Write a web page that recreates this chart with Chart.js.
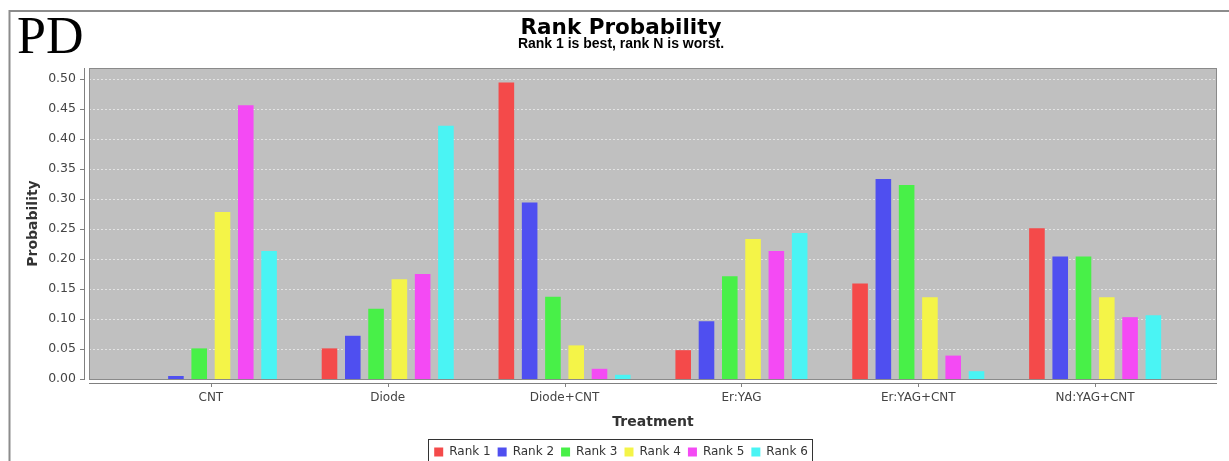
<!DOCTYPE html>
<html>
<head>
<meta charset="utf-8">
<script src="https://cdn.jsdelivr.net/npm/chart.js@4"></script>
<style>
  html, body { margin: 0; padding: 0; background: #fff; overflow: hidden; }
  #wrap { width: 1229px; height: 468px; }
</style>
</head>
<body>
<div id="wrap"><canvas id="chart" width="1229" height="468"></canvas></div>
<script>
// categories along the x axis
var treatments = ["CNT", "Diode", "Diode+CNT", "Er:YAG", "Er:YAG+CNT", "Nd:YAG+CNT"];

// probability of each rank, one array per rank, in treatment order
var rank1 = [0.000, 0.051, 0.494, 0.048, 0.159, 0.251];
var rank2 = [0.005, 0.072, 0.294, 0.096, 0.333, 0.204];
var rank3 = [0.051, 0.117, 0.137, 0.171, 0.323, 0.204];
var rank4 = [0.278, 0.166, 0.056, 0.233, 0.136, 0.136];
var rank5 = [0.456, 0.175, 0.017, 0.213, 0.039, 0.103];
var rank6 = [0.213, 0.422, 0.007, 0.243, 0.013, 0.106];

var rankNames = ["Rank 1", "Rank 2", "Rank 3", "Rank 4", "Rank 5", "Rank 6"];
var rankColors = ["#f44a4a", "#4f4ff0", "#48f048", "#f4f448", "#f44af4", "#4af4f4"];

// y tick values
var yTicks = [0, 0.05, 0.10, 0.15, 0.20, 0.25, 0.30, 0.35, 0.40, 0.45, 0.50];

function toPoints(values) {
    return values.map(function (v, i) { return {x: i, y: v}; });
}

var datasets = [rank1, rank2, rank3, rank4, rank5, rank6].map(function (values, i) {
    return {
        label: rankNames[i],
        data: toPoints(values),
        backgroundColor: rankColors[i],
        borderWidth: 0,
        categoryPercentage: 0.79,
        barPercentage: 0.67
    };
});

// background, dashed grid, outlines, offset axis lines, the frame and the "PD" mark
var decorations = {
    id: "decorations",
    beforeDraw: function (chart) {
        var ctx = chart.ctx, a = chart.chartArea;
        ctx.save();
        ctx.fillStyle = "#ffffff";
        ctx.fillRect(0, 0, chart.width, chart.height);
        ctx.fillStyle = "#c0c0c0";
        ctx.fillRect(a.left, a.top, a.right - a.left, a.bottom - a.top);
        ctx.restore();
    },
    beforeDatasetsDraw: function (chart) {
        var ctx = chart.ctx, a = chart.chartArea, ys = chart.scales.y;
        ctx.save();
        ctx.strokeStyle = "#e4e4e4";
        ctx.lineWidth = 1;
        ctx.setLineDash([2, 2]);
        ctx.beginPath();
        ys.ticks.forEach(function (t) {
            var y = Math.round(ys.getPixelForValue(t.value)) + 0.5;
            ctx.moveTo(a.left, y);
            ctx.lineTo(a.right, y);
        });
        ctx.stroke();
        ctx.restore();
    },
    afterDraw: function (chart) {
        var ctx = chart.ctx, a = chart.chartArea;
        var xs = chart.scales.x, ys = chart.scales.y;
        ctx.save();

        // plot outline
        ctx.strokeStyle = "#8a8a8a";
        ctx.lineWidth = 1;
        ctx.strokeRect(a.left + 0.5, a.top + 0.5, a.right - a.left - 1, a.bottom - a.top);

        // y axis line and tick marks
        ctx.strokeStyle = "#808080";
        ctx.beginPath();
        ctx.moveTo(a.left - 4.5, a.top);
        ctx.lineTo(a.left - 4.5, a.bottom + 0.5);
        ys.ticks.forEach(function (t) {
            var y = Math.round(ys.getPixelForValue(t.value)) + 0.5;
            ctx.moveTo(a.left - 9, y);
            ctx.lineTo(a.left - 4, y);
        });
        // x axis line and tick marks
        ctx.moveTo(a.left, a.bottom + 4.5);
        ctx.lineTo(a.right, a.bottom + 4.5);
        xs.ticks.forEach(function (t) {
            var x = Math.round(xs.getPixelForValue(t.value)) + 0.5;
            ctx.moveTo(x, a.bottom + 4);
            ctx.lineTo(x, a.bottom + 8);
        });
        ctx.stroke();

        // outer frame (top and left edges)
        ctx.strokeStyle = "#8c8c8c";
        ctx.lineWidth = 2;
        ctx.beginPath();
        ctx.moveTo(chart.width, 11);
        ctx.lineTo(9.5, 11);
        ctx.lineTo(9.5, chart.height);
        ctx.stroke();

        // legend border
        var boxes = chart.legend.legendHitBoxes;
        if (boxes && boxes.length) {
            var left = boxes[0].left, right = 0;
            boxes.forEach(function (b) {
                left = Math.min(left, b.left);
                right = Math.max(right, b.left + b.width);
            });
            ctx.strokeStyle = "#333";
            ctx.lineWidth = 1;
            ctx.strokeRect(Math.round(left) - 5.5, 439.5, Math.round(right - left) + 10, chart.height);
        }

        // panel letter
        ctx.fillStyle = "#000";
        ctx.font = "52px 'Liberation Serif', serif";
        ctx.textBaseline = "alphabetic";
        ctx.fillText("PD", 17, 53);
        ctx.restore();
    }
};

new Chart(document.getElementById("chart"), {
    type: "bar",
    data: {datasets: datasets},
    plugins: [decorations],
    options: {
        responsive: false,
        animation: false,
        layout: {padding: {left: 25, right: 12, top: 0, bottom: 0}},
        plugins: {
            title: {
                display: true,
                text: "Rank Probability",
                color: "#000",
                font: {family: "'DejaVu Sans'", size: 21.5, weight: "bold", lineHeight: 0.8},
                padding: {top: 20, bottom: 0}
            },
            subtitle: {
                display: true,
                text: "Rank 1 is best, rank N is worst.",
                color: "#000",
                font: {family: "'Liberation Sans'", size: 14, weight: "bold", lineHeight: 1},
                padding: {top: 0, bottom: 16.8}
            },
            legend: {
                position: "bottom",
                labels: {
                    boxWidth: 9,
                    boxHeight: 9,
                    padding: 7,
                    color: "#333",
                    font: {family: "'DejaVu Sans'", size: 12}
                }
            },
            tooltip: {enabled: false}
        },
        scales: {
            x: {
                type: "linear",
                bounds: "data",
                offset: false,
                min: -0.689,
                max: 5.689,
                afterFit: function (scale) { scale.height = 60; },
                afterBuildTicks: function (scale) {
                    scale.ticks = treatments.map(function (t, i) { return {value: i}; });
                },
                grid: {display: false, drawTicks: false},
                border: {display: false},
                ticks: {
                    stepSize: 1,
                    includeBounds: false,
                    autoSkip: false,
                    maxRotation: 0,
                    padding: 12,
                    color: "#444",
                    font: {family: "'DejaVu Sans'", size: 12},
                    callback: function (value) { return treatments[value]; }
                },
                title: {
                    display: true,
                    text: "Treatment",
                    color: "#333",
                    font: {family: "'DejaVu Sans'", size: 14, weight: "bold"},
                    padding: {top: 0, bottom: 8.6}
                }
            },
            y: {
                min: 0,
                max: 0.518,
                afterFit: function (scale) { scale.width = 64; },
                afterBuildTicks: function (scale) {
                    scale.ticks = yTicks.map(function (v) { return {value: v}; });
                },
                grid: {display: false, drawTicks: false},
                border: {display: false},
                ticks: {
                    padding: 13,
                    color: "#444",
                    font: {family: "'DejaVu Sans'", size: 12.5},
                    callback: function (value) { return value.toFixed(2); }
                },
                title: {
                    display: true,
                    text: "Probability",
                    color: "#333",
                    font: {family: "'DejaVu Sans'", size: 14, weight: "bold"},
                    padding: {top: 0, bottom: 0}
                }
            }
        }
    }
});
</script>
</body>
</html>
